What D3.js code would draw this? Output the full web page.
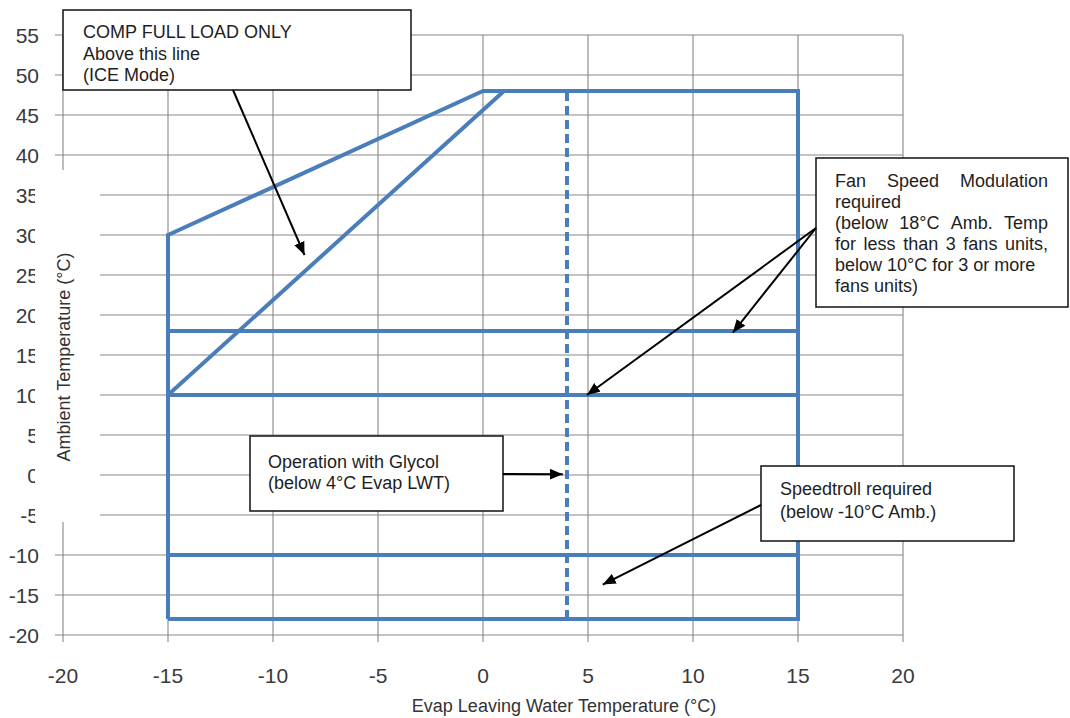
<!DOCTYPE html>
<html>
<head>
<meta charset="utf-8">
<script src="https://cdn.jsdelivr.net/npm/d3@7"></script>
<style>
  body { margin: 0; background: #fff; }
  svg { display: block; font-family: "Liberation Sans", Arial, sans-serif; }
</style>
</head>
<body>
<svg id="chart" width="1070" height="718"></svg>
<script>
// axis ticks
var xTicks = [-20, -15, -10, -5, 0, 5, 10, 15, 20];
var yTicks = [55, 50, 45, 40, 35, 30, 25, 20, 15, 10, 5, 0, -5, -10, -15, -20];

// operating envelope (evap LWT, ambient)
var outerX = [-15, -15, 0, 15, 15, -15];
var outerY = [-18, 30, 48, 48, -18, -18];
var iceX = [-15, 1];
var iceY = [10, 48];
var limitLevels = [18, 10, -10];   // fan speed modulation 18/10, speedtroll -10
var limitFrom = -15, limitTo = 15;
var glycolX = 4;
var glycolY = [-18, 48];

var svg = d3.select('#chart');
var x = d3.scaleLinear().domain([-20, 20]).range([63, 903]);
var y = d3.scaleLinear().domain([-20, 55]).range([635, 35]);
var blue = '#4a7ebb', grid = '#878787', ink = '#1e1e1e';

svg.append('defs').append('marker').attr('id', 'head')
  .attr('viewBox', '0 0 12 10').attr('refX', 12).attr('refY', 5)
  .attr('markerWidth', 13).attr('markerHeight', 11).attr('markerUnits', 'userSpaceOnUse')
  .attr('orient', 'auto')
  .append('path').attr('d', 'M0,0L12,5L0,10Z').attr('fill', '#000');

// grid
var g = svg.append('g');
g.selectAll('.hg').data(yTicks).enter().append('line')
  .attr('x1', 55).attr('x2', x(20)).attr('y1', function(d) { return y(d); }).attr('y2', function(d) { return y(d); })
  .attr('stroke', grid).attr('stroke-width', 1.1);
g.selectAll('.vg').data(xTicks).enter().append('line')
  .attr('x1', function(d) { return x(d); }).attr('x2', function(d) { return x(d); })
  .attr('y1', y(55)).attr('y2', y(-20) + 7)
  .attr('stroke', grid).attr('stroke-width', 1.1);

g.selectAll('.yl').data(yTicks).enter().append('text')
  .attr('x', 39).attr('y', function(d) { return y(d) + 7.5; })
  .attr('text-anchor', 'end').style('font-size', '21px').attr('fill', '#3a3a3a')
  .text(function(d) { return d; });
g.selectAll('.xl').data(xTicks).enter().append('text')
  .attr('x', function(d) { return x(d); }).attr('y', 683)
  .attr('text-anchor', 'middle').style('font-size', '21px').attr('fill', '#3a3a3a')
  .text(function(d) { return d; });

// envelope
var line = d3.line().x(function(d) { return x(d[0]); }).y(function(d) { return y(d[1]); });
var lines = svg.append('g').attr('fill', 'none').attr('stroke', blue).attr('stroke-width', 4);
lines.append('path').attr('d', line(d3.zip(outerX, outerY))).attr('stroke-linejoin', 'miter');
lines.append('path').attr('d', line(d3.zip(iceX, iceY)));
lines.selectAll('.lim').data(limitLevels).enter().append('path')
  .attr('d', function(d) { return line([[limitFrom, d], [limitTo, d]]); });
lines.append('path').attr('d', line(glycolY.map(function(v) { return [glycolX, v]; })))
  .attr('stroke-dasharray', '9,5');

// white patch over the y axis with its title
svg.append('rect').attr('x', 35).attr('y', 170).attr('width', 65).attr('height', 352).attr('fill', '#fff');
svg.append('text').attr('transform', 'translate(70,357) rotate(-90)')
  .attr('text-anchor', 'middle').style('font-size', '18px').attr('fill', '#333')
  .text('Ambient Temperature (°C)');
svg.append('text').attr('x', 564).attr('y', 712)
  .attr('text-anchor', 'middle').style('font-size', '18px').attr('fill', '#333')
  .text('Evap Leaving Water Temperature (°C)');

// callouts
function box(x0, y0, w, h, tx, lines, justifyW) {
  var b = svg.append('g');
  b.append('rect').attr('x', x0).attr('y', y0).attr('width', w).attr('height', h)
    .attr('fill', '#fff').attr('stroke', ink).attr('stroke-width', 1.6);
  lines.forEach(function(l) {
    if (l.j) {
      var words = l.t.split(' ');
      var ts = words.map(function(wd) {
        return b.append('text').attr('y', l.y).style('font-size', '18px').attr('fill', ink).text(wd);
      });
      var ws = ts.map(function(t) { return t.node().getComputedTextLength(); });
      var gap = (justifyW - d3.sum(ws)) / (words.length - 1), cx = tx;
      ts.forEach(function(t, i) { t.attr('x', cx); cx += ws[i] + gap; });
    } else {
      b.append('text').attr('x', tx).attr('y', l.y).style('font-size', '18px').attr('fill', ink).text(l.t);
    }
  });
}
function arrow(x0, y0, vx, vy) {
  svg.append('line').attr('x1', x0).attr('y1', y0).attr('x2', x(vx)).attr('y2', y(vy))
    .attr('stroke', '#000').attr('stroke-width', 2).attr('marker-end', 'url(#head)');
}

box(63, 10, 348, 80, 83, [
  {t: 'COMP FULL LOAD ONLY', y: 38}, {t: 'Above this line', y: 60}, {t: '(ICE Mode)', y: 81}]);
arrow(233, 90, -8.5, 27.5);

box(816, 158, 252, 149, 835, [
  {t: 'Fan Speed Modulation', y: 187, j: true}, {t: 'required', y: 208},
  {t: '(below 18°C Amb. Temp', y: 229, j: true}, {t: 'for less than 3 fans units,', y: 250, j: true},
  {t: 'below 10°C for 3 or more', y: 271}, {t: 'fans units)', y: 292}], 213);
arrow(816, 228, 4.95, 10);
arrow(816, 228, 11.9, 17.8);

box(250, 436, 253, 75, 268, [
  {t: 'Operation with Glycol', y: 468}, {t: '(below 4°C Evap LWT)', y: 489}]);
arrow(503, 474, 3.8, 0.1);

box(761, 466, 253, 75, 780, [
  {t: 'Speedtroll required', y: 495}, {t: '(below -10°C Amb.)', y: 518}]);
arrow(761, 505, 5.7, -13.7);
</script>
</body>
</html>
